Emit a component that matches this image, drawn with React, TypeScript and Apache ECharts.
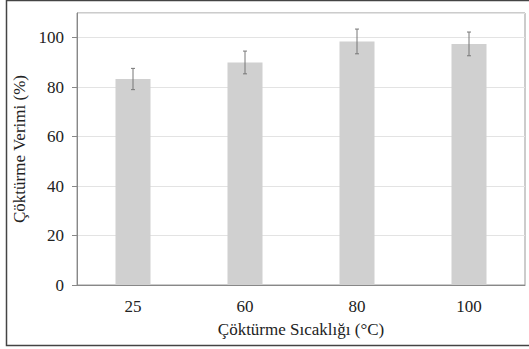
import React, { useEffect, useRef } from "react";
import * as echarts from "echarts";

const categories = ["25", "60", "80", "100"];
const values = [83.3, 90.0, 98.5, 97.5];
const errors = [4.3, 4.6, 5.0, 4.8];
const xTitle = "Çöktürme Sıcaklığı (°C)";
const yTitle = "Çöktürme Verimi (%)";

const FONT = "'Liberation Serif', 'Times New Roman', serif";

export default function App() {
  const ref = useRef<HTMLDivElement>(null);
  useEffect(() => {
    if (!ref.current) return;
    const chart = echarts.init(ref.current, undefined, { renderer: "svg" });
    const errData = categories.map((c, i) => [i, values[i] + errors[i], values[i] - errors[i]]);
    chart.setOption({
      animation: false,
      backgroundColor: "#ffffff",
      textStyle: { fontFamily: FONT },
      grid: {
        left: 77,
        right: 4,
        top: 13,
        bottom: 64,
        show: true,
        borderColor: "#999999",
        borderWidth: 1,
      },
      graphic: [
        {
          type: "rect",
          shape: { x: 6.5, y: 0.5, width: 540, height: 345 },
          style: { fill: "none", stroke: "#444444", lineWidth: 1.5 },
          silent: true,
          z: 100,
        },
      ],
      xAxis: {
        type: "category",
        data: categories,
        name: xTitle,
        nameLocation: "middle",
        nameGap: 36,
        nameTextStyle: { fontFamily: FONT, fontSize: 17, color: "#222" },
        axisLine: { lineStyle: { color: "#888888", width: 1 } },
        axisTick: { alignWithLabel: true, length: 4, lineStyle: { color: "#888888" } },
        axisLabel: { fontFamily: FONT, fontSize: 17, color: "#222", margin: 13 },
      },
      yAxis: {
        type: "value",
        min: 0,
        max: 110,
        interval: 20,
        name: yTitle,
        nameLocation: "middle",
        nameGap: 40,
        nameTextStyle: { fontFamily: FONT, fontSize: 17, color: "#222" },
        axisLine: { show: true, lineStyle: { color: "#888888", width: 1 } },
        axisTick: { show: true, length: 5, lineStyle: { color: "#888888" } },
        axisLabel: { fontFamily: FONT, fontSize: 17, color: "#222", margin: 13, showMaxLabel: false },
        splitLine: { show: true, lineStyle: { color: "#e3e3e3", width: 1 } },
      },
      series: [
        {
          type: "bar",
          data: values,
          barWidth: 35,
          itemStyle: { color: "#d0d0d0" },
        },
        {
          type: "custom",
          data: errData,
          z: 10,
          renderItem: (params: any, api: any) => {
            const x = api.value(0);
            const hi = api.coord([x, api.value(1)]);
            const lo = api.coord([x, api.value(2)]);
            const cw = 2;
            const style = { stroke: "#777777", lineWidth: 1 };
            return {
              type: "group",
              children: [
                { type: "line", shape: { x1: hi[0], y1: hi[1], x2: lo[0], y2: lo[1] }, style },
                { type: "line", shape: { x1: hi[0] - cw, y1: hi[1], x2: hi[0] + cw, y2: hi[1] }, style },
                { type: "line", shape: { x1: lo[0] - cw, y1: lo[1], x2: lo[0] + cw, y2: lo[1] }, style },
              ],
            };
          },
        },
      ],
    });
    return () => chart.dispose();
  }, []);
  return (
    <div
      ref={ref}
      style={{ position: "fixed", left: 0, top: 0, width: 529, height: 349 }}
    />
  );
}
